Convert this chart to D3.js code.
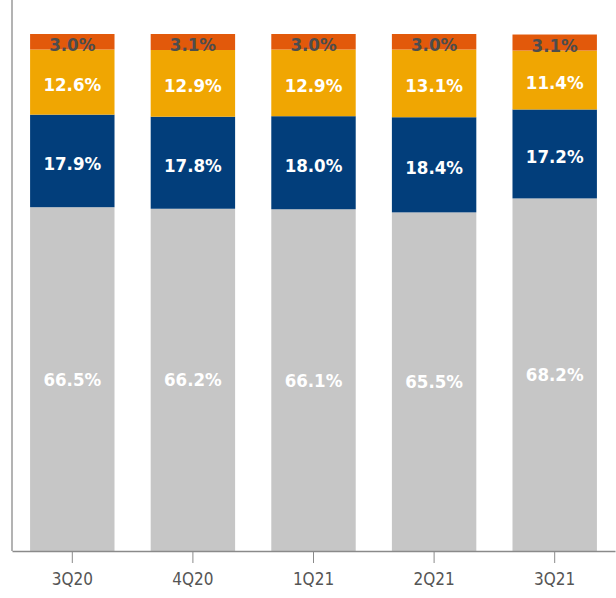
<!DOCTYPE html>
<html>
<head>
<meta charset="utf-8">
<script src="https://cdn.jsdelivr.net/npm/d3@7"></script>
<style>
  body { margin: 0; background: #fff; }
  svg text { font-family: "DejaVu Sans Condensed", "DejaVu Sans", sans-serif; }
</style>
</head>
<body>
<svg id="chart" width="616" height="598"></svg>
<script>
const quarters = ['3Q20', '4Q20', '1Q21', '2Q21', '3Q21'];
const seriesNames = ['base', 'blue', 'yellow', 'top'];
const baseValues = [66.5, 66.2, 66.1, 65.5, 68.2];
const blueValues = [17.9, 17.8, 18.0, 18.4, 17.2];
const yellowValues = [12.6, 12.9, 12.9, 13.1, 11.4];
const topValues = [3.0, 3.1, 3.0, 3.0, 3.1];

const colors = { base: '#c6c6c6', blue: '#023e7b', yellow: '#f0a602', top: '#e2590b' };
const labelColors = { base: '#ffffff', blue: '#ffffff', yellow: '#ffffff', top: '#4d4d4d' };

const rows = quarters.map(function (q, i) {
  return { q: q, base: baseValues[i], blue: blueValues[i], yellow: yellowValues[i], top: topValues[i] };
});

const svg = d3.select('#chart');
const x = d3.scaleBand().domain(quarters).range([12, 615]).paddingInner(0.3).paddingOuter(0.15);
const y = d3.scaleLinear().domain([0, 100]).range([551, 34]);

const stacked = d3.stack().keys(seriesNames)(rows);

const layer = svg.selectAll('g.layer').data(stacked).enter().append('g')
  .attr('class', 'layer')
  .attr('fill', (d) => colors[d.key]);

layer.selectAll('rect').data((d) => d).enter().append('rect')
  .attr('x', (d) => x(d.data.q))
  .attr('width', x.bandwidth())
  .attr('y', (d) => y(d[1]))
  .attr('height', (d) => y(d[0]) - y(d[1]));

stacked.forEach(function (s) {
  svg.append('g').selectAll('text').data(s).enter().append('text')
    .attr('x', (d) => x(d.data.q) + x.bandwidth() / 2)
    .attr('y', function (d) {
      const mid = (y(d[0]) + y(d[1])) / 2;
      return s.key === 'base' ? mid + 6.5 : mid + 9;
    })
    .attr('text-anchor', 'middle')
    .attr('font-size', 18.5)
    .attr('font-weight', 'bold')
    .attr('fill', labelColors[s.key])
    .text((d) => (d[1] - d[0]).toFixed(1) + '%');
});

// axes
svg.append('line').attr('x1', 12).attr('x2', 12).attr('y1', 0).attr('y2', 551)
  .attr('stroke', '#9a9a9a').attr('stroke-width', 1.5);

const xAxis = svg.append('g').attr('transform', 'translate(0,551)')
  .call(d3.axisBottom(x).tickSize(12).tickSizeOuter(0));
xAxis.select('.domain').attr('stroke', '#8a8a8a').attr('stroke-width', 1.5);
xAxis.selectAll('.tick line').attr('stroke', '#8a8a8a');
xAxis.selectAll('.tick text')
  .attr('font-family', '"DejaVu Sans Condensed", "DejaVu Sans", sans-serif')
  .attr('font-size', 17)
  .attr('fill', '#555')
  .attr('y', 22);
</script>
</body>
</html>
